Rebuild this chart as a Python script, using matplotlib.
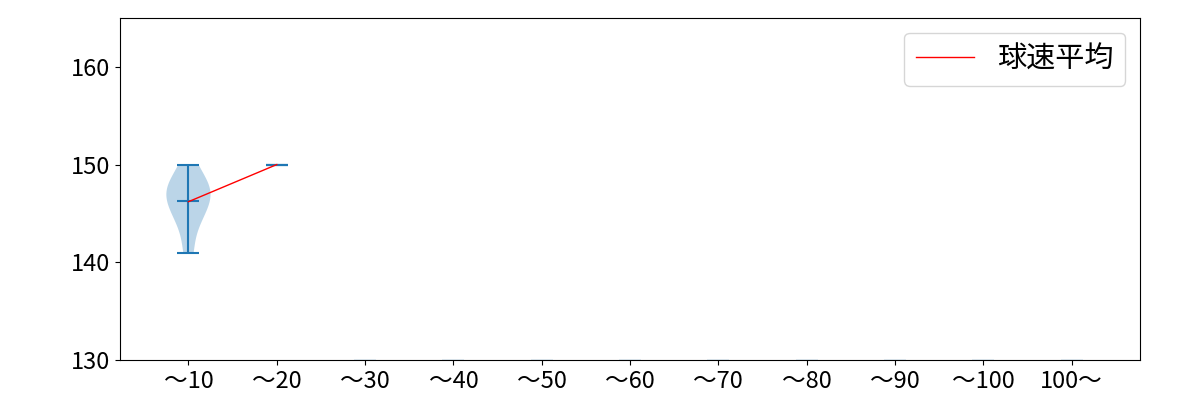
import numpy as np
import matplotlib
matplotlib.use("Agg")
import matplotlib.pyplot as plt

plt.rcParams['font.family'] = ['Noto Sans CJK JP', 'DejaVu Sans']

# 打球数ごとの球速
labels = ["～10", "～20", "～30", "～40", "～50", "～60", "～70", "～80", "～90", "～100", "100～"]
speeds = [
    [141, 144, 145, 146, 147, 147, 148, 148, 150],
    [150],
    [129.9], [129.9], [129.9], [129.9], [129.9], [129.9], [129.9], [129.9], [129.9],
]
means = [146.2, 150.0, np.nan, np.nan, np.nan, np.nan, np.nan, np.nan, np.nan, np.nan, np.nan]

fig = plt.figure(figsize=(12, 4), dpi=100)
ax = fig.add_subplot(1, 1, 1)
fig.subplots_adjust(left=0.1, right=0.95, bottom=0.1, top=0.955)

positions = np.arange(1, len(labels) + 1)
ax.violinplot(speeds, positions=positions, showmeans=True, showextrema=True)
ax.plot(positions, means, c='red', linewidth=1, label="球速平均")

ax.set_ylim(130, 165)
ax.set_yticks([130, 140, 150, 160])
ax.set_xticks(positions)
ax.set_xticklabels(labels, fontsize=17)
ax.tick_params(axis='y', labelsize=17)
ax.legend(loc='upper right', fontsize=21)

fig.savefig("out.png")
